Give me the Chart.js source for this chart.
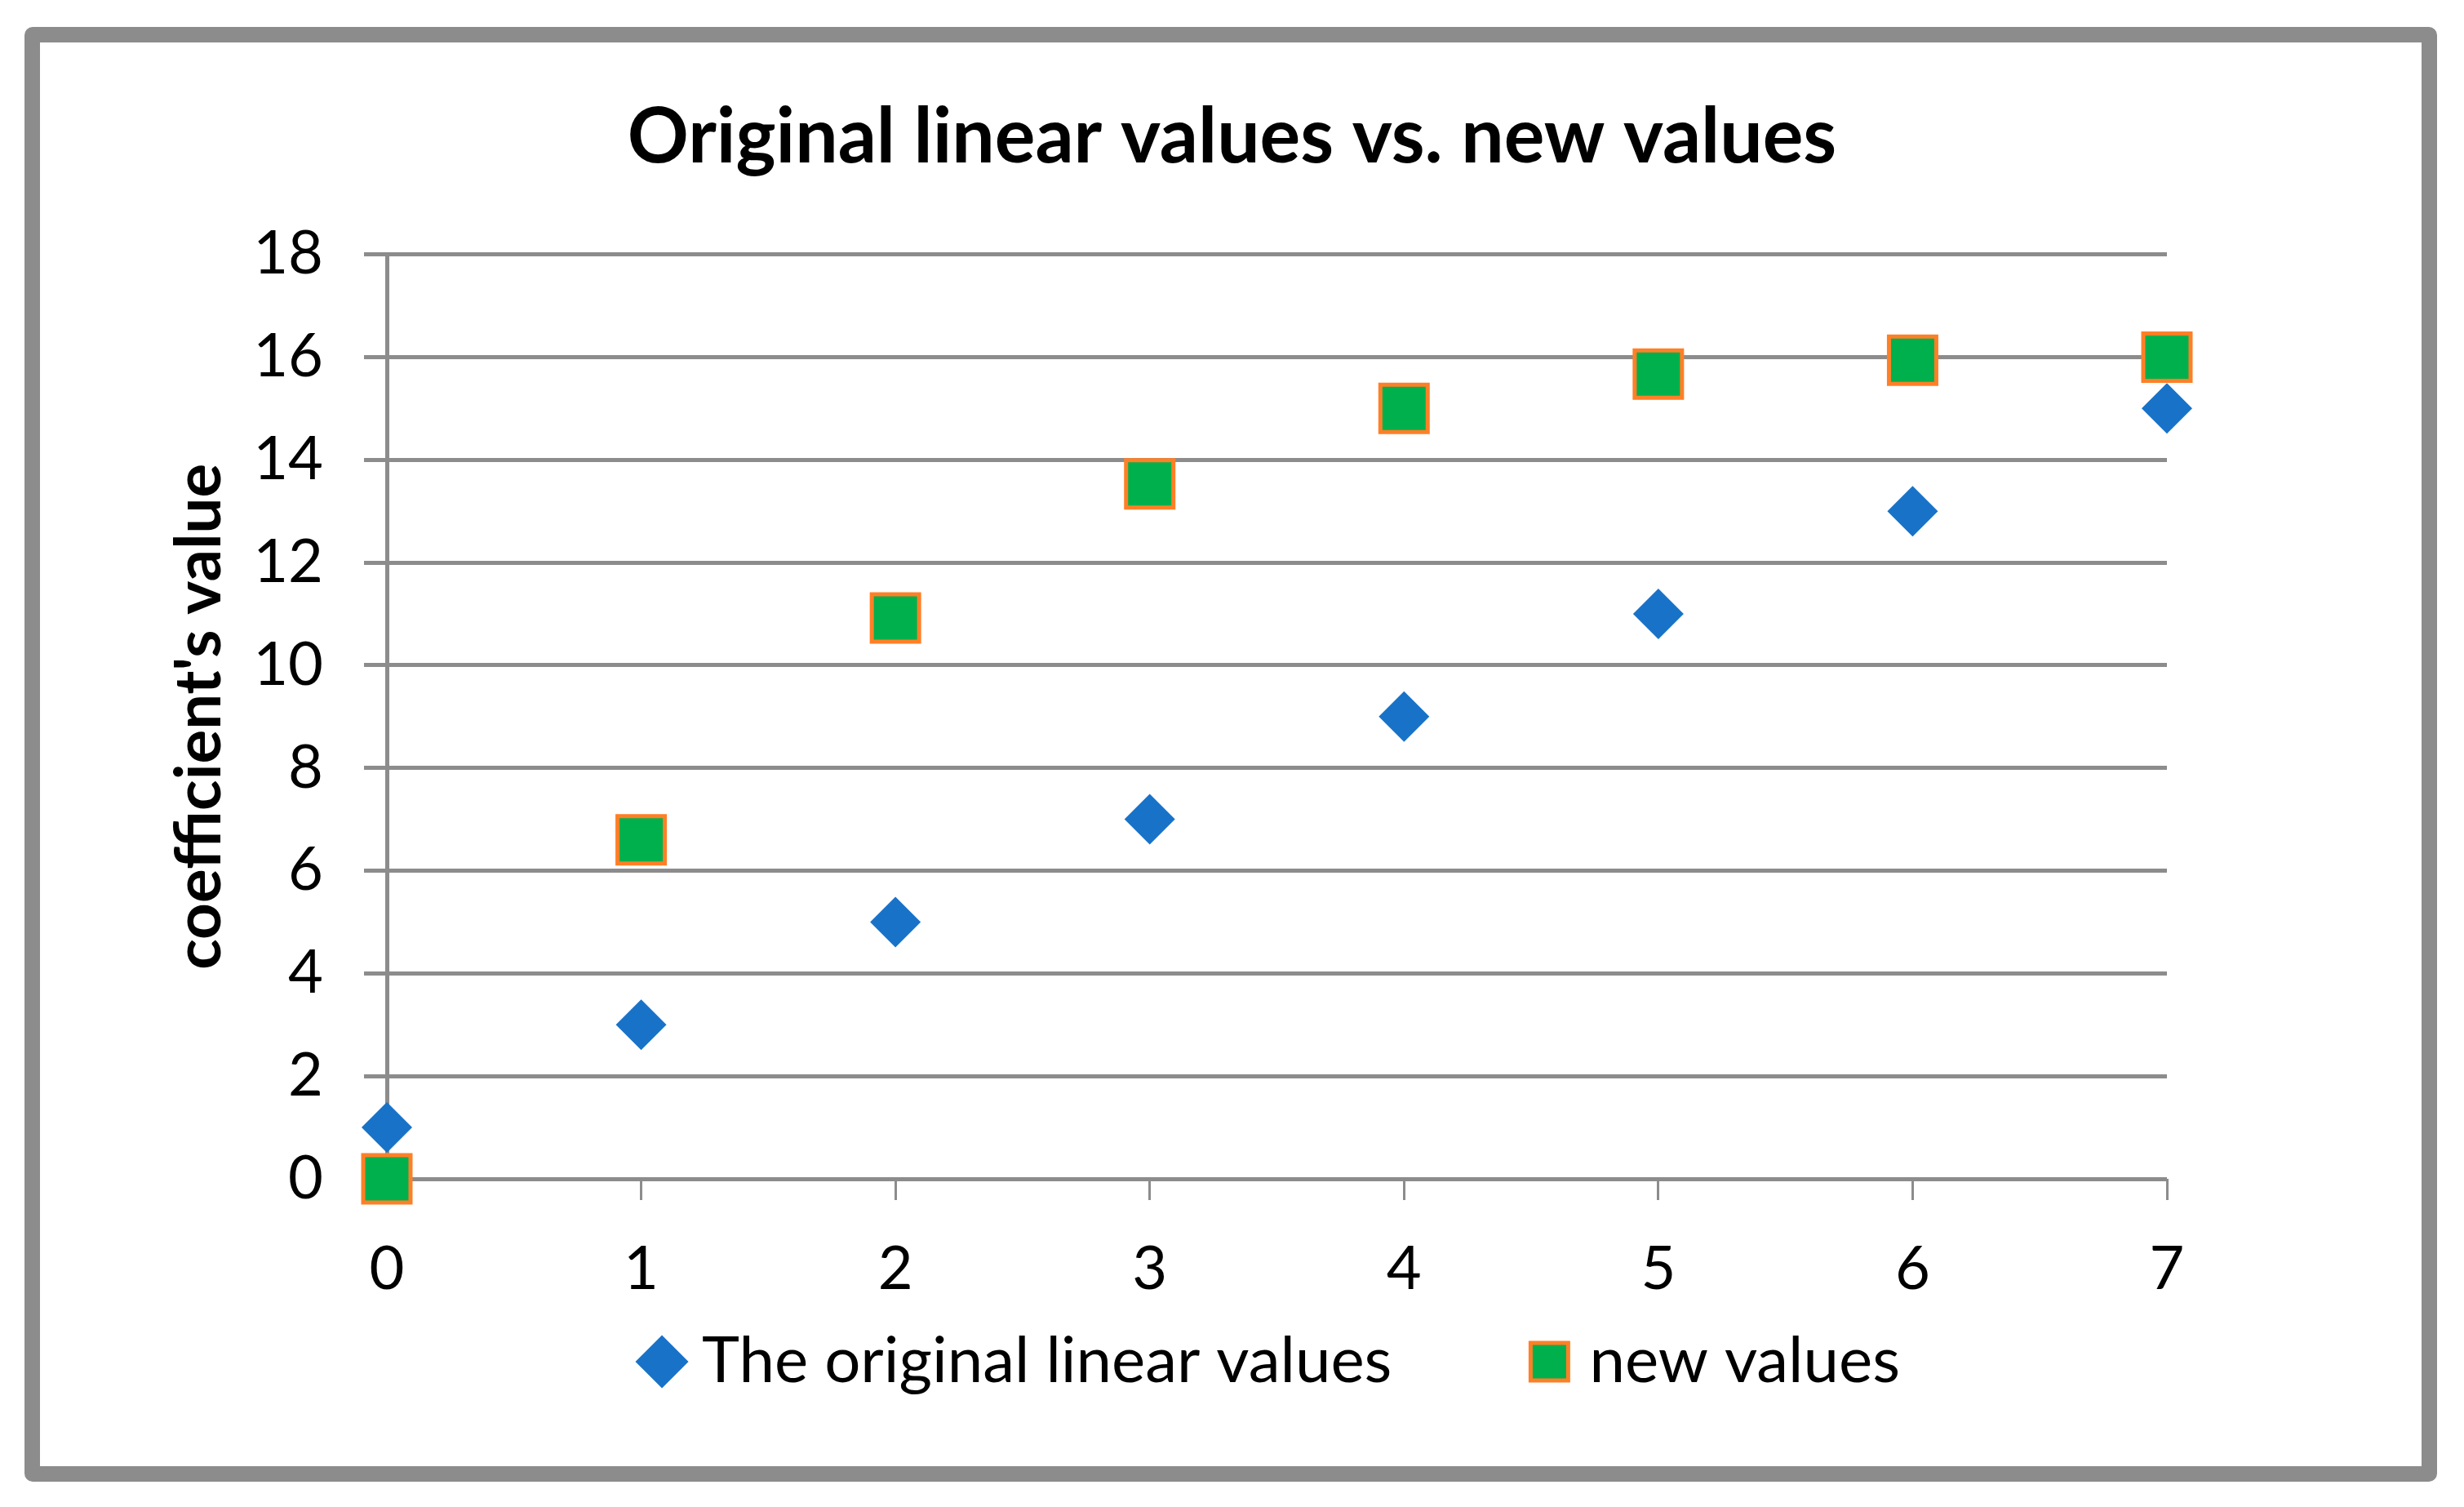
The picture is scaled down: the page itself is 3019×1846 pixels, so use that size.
<!DOCTYPE html>
<html>
<head>
<meta charset="utf-8">
<title>Original linear values vs. new values</title>
<script src="https://cdn.jsdelivr.net/npm/chart.js@4.4.1/dist/chart.umd.min.js"></script>
<style>
    html, body { margin: 0; padding: 0; background: #fff; }
    #wrap { position: relative; width: 3019px; height: 1846px; }
    #frame {
        position: absolute; left: 30px; top: 33px; width: 2956px; height: 1782px;
        box-sizing: border-box; border: 19px solid #8c8c8c; border-radius: 10px;
        pointer-events: none;
    }
</style>
</head>
<body>
<div id="wrap">
    <canvas id="chart"></canvas>
    <div id="frame"></div>
</div>
<script>
// data
const xValues = [0, 1, 2, 3, 4, 5, 6, 7];
const originalValues = [1, 3, 5, 7, 9, 11, 13, 15];
const newValues = [0, 6.6, 10.92, 13.53, 15.0, 15.67, 15.94, 16.0];
const seriesNames = ['The original linear values', 'new values'];
const chartTitle = 'Original linear values vs. new values';
const yTitle = "coefficient's value";

const gridColor = '#8c8c8c';

function toPoints(ys) {
    return xValues.map(function (x, i) { return { x: x, y: ys[i] }; });
}

Chart.defaults.font.family = 'Lato, "Noto Sans", sans-serif';
Chart.defaults.color = '#000';

const ctx = document.getElementById('chart').getContext('2d');
const chart = new Chart(ctx, {
    type: 'scatter',
    data: {
        datasets: [{
            label: seriesNames[0],
            data: toPoints(originalValues),
            pointStyle: 'rectRot',
            pointRadius: 31,
            pointHoverRadius: 31,
            backgroundColor: '#1873c8',
            borderColor: '#1873c8',
            borderWidth: 0,
            clip: false
        }, {
            label: seriesNames[1],
            data: toPoints(newValues),
            pointStyle: 'rect',
            pointRadius: 41,
            pointHoverRadius: 41,
            backgroundColor: '#00b04c',
            borderColor: '#ff7f27',
            borderWidth: 5,
            clip: false
        }]
    },
    options: {
        responsive: true,
        maintainAspectRatio: false,
        animation: false,
        layout: { padding: { top: 0, left: 0, right: 0, bottom: 129 } },
        plugins: {
            title: {
                display: true,
                text: chartTitle,
                font: { size: 93, weight: 'bold' },
                padding: { top: 113, bottom: 87 }
            },
            legend: {
                position: 'bottom',
                fullSize: false,
                labels: {
                    usePointStyle: true,
                    boxWidth: 20,
                    boxHeight: 46,
                    padding: 183,
                    font: { size: 78 }
                }
            },
            tooltip: { enabled: false }
        },
        scales: {
            x: {
                type: 'linear',
                min: 0,
                max: 7,
                // mirrored so the labels are not clipped by the thin axis box
                ticks: { stepSize: 1, mirror: true, padding: -156, font: { size: 74 } },
                grid: { drawOnChartArea: false, drawTicks: true, tickLength: 26, color: gridColor, lineWidth: 3 },
                border: { display: false },
                afterFit: function (s) { s.height = 2; }
            },
            y: {
                min: 0,
                max: 18,
                ticks: { stepSize: 2, padding: 50, font: { size: 74 } },
                grid: { color: gridColor, lineWidth: 5, tickLength: 28 },
                border: { display: true, color: gridColor, width: 5 },
                title: {
                    display: true,
                    text: yTitle,
                    font: { size: 78, weight: 'bold' },
                    padding: { top: 198, bottom: 0 }
                },
                afterFit: function (s) { s.width = 474; }
            },
            // empty right-hand axis, only keeps the plot area off the right edge
            spacer: {
                type: 'linear',
                position: 'right',
                ticks: { display: false },
                grid: { display: false },
                border: { display: false },
                afterFit: function (s) { s.width = 364; }
            }
        }
    }
});
</script>
</body>
</html>
